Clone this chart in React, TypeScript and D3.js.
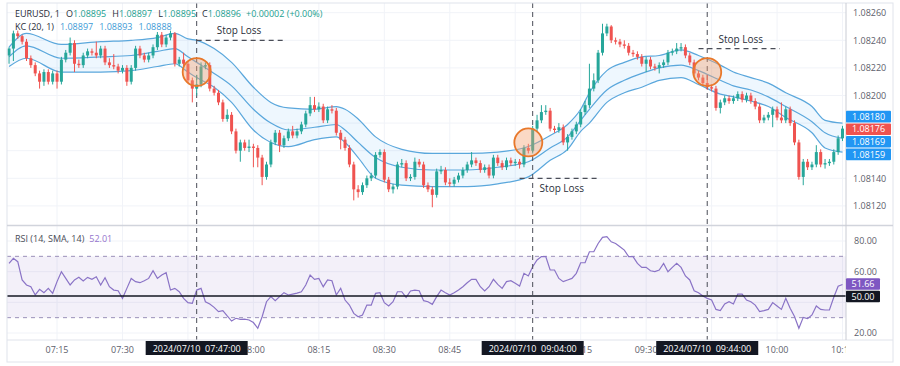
import React from "react";
import * as d3 from "d3";

// ---------- DATA ----------
const firstBarTime = "07:04";
const firstOpen = 1.08229;
const closes = [
  1.08234,1.08245,1.08243,1.08239,1.08227,1.08222,1.08216,1.08210,1.08217,1.08210,
  1.08216,1.08210,1.08226,1.08231,1.08238,1.08223,1.08222,1.08229,1.08232,1.08231,
  1.08229,1.08234,1.08224,1.08222,1.08221,1.08218,1.08220,1.08210,1.08220,1.08234,
  1.08229,1.08226,1.08229,1.08235,1.08244,1.08237,1.08242,1.08245,1.08223,1.08226,
  1.08223,1.08211,1.08205,1.08208,1.08221,1.08222,1.08205,1.08202,1.08195,1.08183,
  1.08186,1.08174,1.08160,1.08166,1.08162,1.08163,1.08162,1.08155,1.08141,1.08150,
  1.08166,1.08173,1.08164,1.08169,1.08174,1.08171,1.08174,1.08179,1.08187,1.08193,
  1.08190,1.08192,1.08182,1.08190,1.08189,1.08173,1.08168,1.08162,1.08150,1.08132,
  1.08130,1.08135,1.08140,1.08142,1.08157,1.08159,1.08139,1.08132,1.08134,1.08150,
  1.08151,1.08140,1.08141,1.08152,1.08150,1.08135,1.08132,1.08128,1.08145,1.08146,
  1.08137,1.08136,1.08139,1.08142,1.08146,1.08150,1.08153,1.08151,1.08146,1.08148,
  1.08142,1.08155,1.08151,1.08148,1.08153,1.08151,1.08152,1.08150,1.08162,1.08160,
  1.08176,1.08182,1.08188,1.08189,1.08176,1.08175,1.08177,1.08166,1.08170,1.08174,
  1.08179,1.08188,1.08193,1.08205,1.08211,1.08231,1.08245,1.08250,1.08240,1.08239,
  1.08237,1.08236,1.08231,1.08230,1.08228,1.08223,1.08226,1.08221,1.08220,1.08222,
  1.08224,1.08231,1.08232,1.08234,1.08235,1.08229,1.08224,1.08216,1.08213,1.08209,
  1.08206,1.08205,1.08191,1.08195,1.08198,1.08196,1.08198,1.08201,1.08197,1.08200,
  1.08196,1.08192,1.08182,1.08184,1.08186,1.08190,1.08184,1.08182,1.08190,1.08180,
  1.08166,1.08141,1.08152,1.08148,1.08150,1.08159,1.08150,1.08151,1.08152,1.08159,
  1.08169,1.08176,
];
const highs = [
  1.08235,1.08247,1.08247,1.08244,1.08241,1.08229,1.08224,1.08218,1.08219,1.08219,
  1.08218,1.08218,1.08228,1.08233,1.08242,1.08240,1.08226,1.08231,1.08234,1.08234,
  1.08239,1.08236,1.08236,1.08227,1.08230,1.08223,1.08222,1.08222,1.08222,1.08236,
  1.08236,1.08231,1.08231,1.08237,1.08246,1.08246,1.08244,1.08247,1.08246,1.08228,
  1.08231,1.08225,1.08213,1.08215,1.08224,1.08224,1.08224,1.08207,1.08204,1.08197,
  1.08190,1.08188,1.08176,1.08168,1.08168,1.08168,1.08165,1.08164,1.08157,1.08152,
  1.08168,1.08175,1.08175,1.08171,1.08176,1.08178,1.08176,1.08181,1.08189,1.08199,
  1.08199,1.08195,1.08194,1.08192,1.08193,1.08191,1.08175,1.08170,1.08164,1.08152,
  1.08135,1.08137,1.08142,1.08144,1.08159,1.08161,1.08161,1.08141,1.08136,1.08152,
  1.08154,1.08153,1.08143,1.08155,1.08154,1.08152,1.08137,1.08134,1.08147,1.08149,
  1.08148,1.08140,1.08141,1.08144,1.08148,1.08152,1.08159,1.08155,1.08153,1.08150,
  1.08150,1.08157,1.08157,1.08153,1.08155,1.08155,1.08154,1.08154,1.08164,1.08165,
  1.08178,1.08186,1.08193,1.08193,1.08191,1.08178,1.08180,1.08179,1.08172,1.08176,
  1.08181,1.08190,1.08196,1.08223,1.08216,1.08233,1.08252,1.08252,1.08251,1.08242,
  1.08241,1.08240,1.08238,1.08233,1.08232,1.08230,1.08228,1.08228,1.08223,1.08224,
  1.08226,1.08233,1.08234,1.08238,1.08238,1.08237,1.08231,1.08226,1.08218,1.08215,
  1.08215,1.08208,1.08207,1.08197,1.08200,1.08200,1.08200,1.08203,1.08203,1.08202,
  1.08202,1.08198,1.08194,1.08186,1.08188,1.08192,1.08192,1.08195,1.08192,1.08192,
  1.08182,1.08168,1.08154,1.08154,1.08152,1.08164,1.08161,1.08154,1.08154,1.08161,
  1.08171,1.08178,
];
const lows = [
  1.08223,1.08225,1.08241,1.08237,1.08225,1.08220,1.08214,1.08205,1.08207,1.08208,
  1.08208,1.08205,1.08208,1.08224,1.08229,1.08217,1.08220,1.08220,1.08227,1.08229,
  1.08227,1.08227,1.08222,1.08220,1.08219,1.08216,1.08216,1.08207,1.08208,1.08218,
  1.08227,1.08224,1.08224,1.08227,1.08233,1.08235,1.08235,1.08240,1.08221,1.08221,
  1.08221,1.08209,1.08195,1.08200,1.08206,1.08219,1.08203,1.08200,1.08193,1.08181,
  1.08181,1.08172,1.08158,1.08152,1.08160,1.08159,1.08148,1.08148,1.08135,1.08139,
  1.08148,1.08164,1.08159,1.08162,1.08167,1.08169,1.08169,1.08172,1.08177,1.08185,
  1.08188,1.08188,1.08180,1.08180,1.08187,1.08171,1.08161,1.08160,1.08148,1.08124,
  1.08126,1.08128,1.08133,1.08138,1.08140,1.08155,1.08137,1.08130,1.08129,1.08132,
  1.08148,1.08138,1.08138,1.08139,1.08148,1.08133,1.08130,1.08119,1.08126,1.08143,
  1.08135,1.08134,1.08134,1.08137,1.08140,1.08144,1.08148,1.08149,1.08144,1.08144,
  1.08140,1.08140,1.08149,1.08146,1.08146,1.08149,1.08149,1.08147,1.08148,1.08158,
  1.08158,1.08174,1.08180,1.08186,1.08174,1.08173,1.08173,1.08164,1.08160,1.08168,
  1.08172,1.08177,1.08186,1.08191,1.08203,1.08209,1.08229,1.08243,1.08238,1.08237,
  1.08235,1.08234,1.08229,1.08228,1.08226,1.08221,1.08217,1.08219,1.08218,1.08216,
  1.08220,1.08222,1.08229,1.08230,1.08232,1.08227,1.08222,1.08214,1.08211,1.08207,
  1.08204,1.08203,1.08189,1.08187,1.08193,1.08194,1.08194,1.08196,1.08195,1.08195,
  1.08194,1.08190,1.08180,1.08180,1.08182,1.08177,1.08182,1.08180,1.08180,1.08178,
  1.08164,1.08139,1.08135,1.08146,1.08146,1.08148,1.08148,1.08147,1.08149,1.08150,
  1.08157,1.08167,
];
const rsiValues = [
  65.4,68.7,66.5,54.6,51.3,50.2,44.8,48.5,46.3,49.1,
  45.9,53.5,60.0,55.6,51.3,54.6,56.3,53.9,56.3,55.0,
  56.7,51.3,56.1,50.2,48.0,47.6,42.6,49.1,55.6,53.5,
  52.8,54.1,55.6,60.6,55.6,57.8,59.3,48.0,49.1,46.9,
  42.6,39.8,39.3,48.0,49.1,40.4,38.9,36.7,33.9,34.6,
  31.1,27.8,29.6,28.9,29.1,28.5,26.8,23.1,30.6,40.4,
  43.7,41.1,43.7,46.3,44.8,45.4,46.0,46.9,51.3,57.8,
  55.0,55.6,50.2,54.6,54.1,44.8,49.1,41.5,38.2,32.8,
  30.6,31.7,38.2,38.2,45.9,46.3,39.8,37.6,40.4,46.9,
  46.9,43.2,47.4,48.0,47.6,41.1,40.4,38.7,43.7,48.0,
  46.3,44.8,46.3,48.0,50.2,52.8,55.0,55.0,50.2,47.4,
  50.2,55.0,51.7,49.1,53.5,54.1,52.4,50.6,58.9,57.2,
  63.2,67.6,69.8,69.8,61.1,61.1,55.6,53.5,54.6,55.6,
  58.9,65.8,65.8,73.0,73.0,78.4,82.4,82.8,79.5,78.4,
  76.3,74.1,69.8,69.8,65.4,62.8,62.8,60.6,60.0,61.1,
  65.4,60.0,62.8,65.4,62.8,57.2,54.6,47.6,46.3,44.1,
  42.6,41.5,35.4,34.6,38.9,40.4,38.9,45.4,45.4,41.5,
  40.4,38.2,33.9,34.6,35.4,39.8,37.6,35.4,42.6,36.1,
  30.7,23.1,30.2,29.4,31.8,37.6,35.4,35.0,35.0,43.3,
  50.5,51.66,
];
// Keltner channel samples (bar index -> band values)
const kcBars = [0,4,12,21,28,34,38,41,43,47,51,56,60,64,70,75,77,80,84,90,97,105,112,119,124,128,131,133,137,141,145,149,154,158,163,166,170,174,178,184,187,191];
const kcUpper = [1.08235,1.08245,1.08237,1.08239,1.08240,1.08242,1.08245,1.08241,1.08240,1.08234,1.08224,1.08206,1.08195,1.08191,1.08190,1.08192,1.08190,1.08183,1.08170,1.08161,1.08158,1.08158,1.08159,1.08163,1.08171,1.08179,1.08190,1.08202,1.08218,1.08224,1.08228,1.08229,1.08233,1.08229,1.08222,1.08217,1.08213,1.08209,1.08202,1.08192,1.08182,1.08180];
const kcMiddle = [1.08228,1.08236,1.08227,1.08228,1.08229,1.08232,1.08234,1.08228,1.08224,1.08216,1.08207,1.08190,1.08180,1.08175,1.08177,1.08179,1.08175,1.08166,1.08155,1.08148,1.08146,1.08146,1.08148,1.08152,1.08162,1.08170,1.08182,1.08190,1.08204,1.08211,1.08216,1.08220,1.08222,1.08218,1.08211,1.08207,1.08204,1.08199,1.08192,1.08181,1.08173,1.08169];
const kcLower = [1.08221,1.08227,1.08217,1.08217,1.08218,1.08221,1.08223,1.08217,1.08213,1.08206,1.08195,1.08175,1.08166,1.08163,1.08168,1.08170,1.08166,1.08155,1.08140,1.08135,1.08134,1.08134,1.08136,1.08141,1.08153,1.08161,1.08174,1.08180,1.08195,1.08202,1.08206,1.08211,1.08213,1.08208,1.08201,1.08199,1.08196,1.08192,1.08184,1.08173,1.08162,1.08159];

const priceTicks = [1.0826, 1.0824, 1.0822, 1.082, 1.0818, 1.0816, 1.0814, 1.0812];
const rsiTicks = [80, 60, 40, 20];
const rsiBandTop = 70;
const rsiBandBottom = 30;
const rsiRefLevel = 44.1;
const rsiRefLabel = "50.00";
const timeGrid = ["07:15","07:30","07:45","08:00","08:15","08:30","08:45","09:00","09:15","09:30","09:45","10:00","10:15"];
const timeLabels = ["07:15","07:30","08:00","08:15","08:30","08:45","09:15","09:30","10:00","10:15"];
const crosshairTimes = ["07:47","09:04","09:44"];
const crosshairLabels = ["2024/07/10  07:47:00","2024/07/10  09:04:00","2024/07/10  09:44:00"];
const stopLossFrom = ["07:47","09:01","09:42"];
const stopLossTo = ["08:07","09:19:30","10:00:40"];
const stopLossPrice = [1.0824, 1.0814, 1.08234];
const stopLossSide = ["above","below","above"];
const signalTimes = ["07:47","09:03","09:44"];
const signalPrices = [1.08217, 1.08166, 1.08217];
const legendSymbol = "EURUSD, 1";
const legendOHLC = [["O","1.08895"],["H","1.08897"],["L","1.08895"],["C","1.08896"]];
const legendChange = "+0.00002 (+0.00%)";
const kcTitle = "KC (20, 1)";
const kcLegendValues = ["1.08897","1.08893","1.08888"];
const rsiTitle = "RSI (14, SMA, 14)";
const rsiLegendValue = "52.01";

// ---------- HELPERS ----------
const at = (hm: string) => {
  const [h, m, s] = hm.split(":").map(Number);
  return new Date(2024, 6, 10, h, m, s || 0);
};

function dodge(ys: number[], gap: number): number[] {
  const idx = ys.map((_, i) => i).sort((a, b) => ys[a] - ys[b]);
  const groups = idx.map((i) => ({ members: [i], center: ys[i] }));
  let merged = true;
  while (merged) {
    merged = false;
    for (let k = 0; k < groups.length - 1; k++) {
      const a = groups[k], b = groups[k + 1];
      if (a.center + (a.members.length * gap) / 2 > b.center - (b.members.length * gap) / 2) {
        const members = a.members.concat(b.members);
        const center = d3.mean(members, (m) => ys[m]) as number;
        groups.splice(k, 2, { members, center });
        merged = true;
        break;
      }
    }
  }
  const out: number[] = new Array(ys.length);
  groups.forEach((g) =>
    g.members.forEach((m, j) => {
      out[m] = g.center - ((g.members.length - 1) * gap) / 2 + j * gap;
    })
  );
  return out;
}

const FONT = "'Open Sans', 'Noto Sans', sans-serif";
const UP = "#26a69a";
const DOWN = "#ef5350";
const KC = "#5aa7dc";
const RSI = "#8a73c6";
const AXIS_TEXT = "#5d606b";
const GRID = "#f1f3f8";
const BORDER = "#e0e3eb";
const BOX_H = 11.6;

export default function App() {
  const W = 900, H = 366;
  const PL = 7, PR = 846, TOP = 3, MAIN_B = 225, RSI_T = 226, RSI_B = 340, BOTTOM = 362, RIGHT = 893;

  const x = d3.scaleTime().domain([at("07:03:32"), at("10:15:48")]).range([PL, PR]);
  const y = d3.scaleLinear().domain([1.0812, 1.0826]).range([205.9, 12.7]);
  const yr = d3.scaleLinear().domain([20, 80]).range([333, 241]);
  const fmt = d3.format(".5f");

  const t0 = at(firstBarTime);
  const barTime = (i: number) => d3.timeMinute.offset(t0, i);
  const bars = closes.map((c, i) => ({
    t: barTime(i),
    o: i ? closes[i - 1] : firstOpen,
    c,
    h: highs[i],
    l: lows[i],
  }));

  const kcPts = kcBars.map((b, k) => ({ t: barTime(b), u: kcUpper[k], m: kcMiddle[k], l: kcLower[k] }));
  const curve = d3.curveMonotoneX;
  const kcArea = d3.area<any>().x((d) => x(d.t)).y0((d) => y(d.l)).y1((d) => y(d.u)).curve(curve)(kcPts) as string;
  const kcLine = (key: "u" | "m" | "l") =>
    d3.line<any>().x((d) => x(d.t)).y((d) => y(d[key])).curve(curve)(kcPts) as string;

  const rsiPath = d3.line<number>().x((_, i) => x(barTime(i))).y((v) => yr(v))(rsiValues) as string;

  const bodyW = 3;

  const last = closes.length - 1;
  const priceBoxes = [
    { v: kcUpper[kcUpper.length - 1], color: "#2196f3" },
    { v: closes[last], color: DOWN },
    { v: kcMiddle[kcMiddle.length - 1], color: "#2196f3" },
    { v: kcLower[kcLower.length - 1], color: "#2196f3" },
  ];
  const pbY = dodge(priceBoxes.map((b) => y(b.v)), 12.6);
  const rsiBoxes = [
    { v: rsiValues[rsiValues.length - 1], text: d3.format(".2f")(rsiValues[rsiValues.length - 1]), color: "#7e57c2" },
    { v: rsiRefLevel, text: rsiRefLabel, color: "#131722" },
  ];
  const rbY = dodge(rsiBoxes.map((b) => yr(b.v)), 12.6);

  // axis tick labels that sit under a value box are hidden (as the platform does)
  const covered = (ty: number, boxYs: number[]) => boxYs.some((by) => Math.abs(by - ty) < BOX_H - 1);
  const visiblePriceTicks = priceTicks.filter((p) => !covered(y(p), pbY));
  const visibleRsiTicks = rsiTicks.filter((v) => !covered(yr(v), rbY));

  return (
    <svg
      width={W}
      height={H}
      viewBox={`0 0 ${W} ${H}`}
      style={{ position: "absolute", left: 0, top: 0, background: "#fff", fontFamily: FONT }}
    >
      <defs>
        <clipPath id="mainClip">
          <rect x={PL} y={TOP} width={PR - PL} height={MAIN_B - TOP} />
        </clipPath>
        <clipPath id="rsiClip">
          <rect x={PL} y={RSI_T} width={PR - PL} height={RSI_B - RSI_T} />
        </clipPath>
        <clipPath id="timeClip">
          <rect x={PL} y={RSI_B} width={PR - PL} height={BOTTOM - RSI_B} />
        </clipPath>
      </defs>
      <rect x={0} y={0} width={W} height={H} fill="#fff" />

      {/* grid */}
      <g stroke={GRID} strokeWidth={1}>
        {priceTicks.map((p) => (
          <line key={"hp" + p} x1={PL} x2={PR} y1={y(p)} y2={y(p)} />
        ))}
        {rsiTicks.map((v) => (
          <line key={"hr" + v} x1={PL} x2={PR} y1={yr(v)} y2={yr(v)} />
        ))}
        {timeGrid.map((t) => (
          <line key={"v" + t} x1={x(at(t))} x2={x(at(t))} y1={TOP} y2={RSI_B} />
        ))}
      </g>

      {/* Keltner channel */}
      <g clipPath="url(#mainClip)">
        <path d={kcArea} fill="rgba(33,150,243,0.08)" />
        {(["u", "m", "l"] as const).map((k) => (
          <path key={k} d={kcLine(k)} fill="none" stroke={KC} strokeWidth={1.2} />
        ))}
      </g>

      {/* RSI pane */}
      <g clipPath="url(#rsiClip)">
        <rect x={PL} y={yr(rsiBandTop)} width={PR - PL} height={yr(rsiBandBottom) - yr(rsiBandTop)} fill="rgba(126,87,194,0.09)" />
        {[rsiBandTop, rsiBandBottom].map((v) => (
          <line key={v} x1={PL} x2={PR} y1={yr(v)} y2={yr(v)} stroke="#9a90b8" strokeDasharray="4 4" strokeWidth={1} />
        ))}
        <path d={rsiPath} fill="none" stroke={RSI} strokeWidth={1.2} />
        <line x1={PL} x2={PR} y1={yr(rsiRefLevel)} y2={yr(rsiRefLevel)} stroke="#131722" strokeWidth={1.4} />
      </g>

      {/* crosshair dashed verticals */}
      {crosshairTimes.map((t) => (
        <line key={"cx" + t} x1={x(at(t))} x2={x(at(t))} y1={TOP} y2={RSI_B} stroke="#4a4d57" strokeDasharray="5 4" strokeWidth={1} />
      ))}

      {/* candles */}
      <g clipPath="url(#mainClip)">
        {bars.map((b, i) => {
          const col = b.c >= b.o ? UP : DOWN;
          const cx = x(b.t);
          const top = y(Math.max(b.o, b.c));
          const bot = y(Math.min(b.o, b.c));
          return (
            <g key={i}>
              <line x1={cx} x2={cx} y1={y(b.h)} y2={y(b.l)} stroke={col} strokeWidth={1} />
              <rect x={cx - bodyW / 2} y={top} width={bodyW} height={Math.max(1, bot - top)} fill={col} />
            </g>
          );
        })}
      </g>

      {/* signal circles */}
      {signalTimes.map((t, i) => (
        <circle key={"sc" + i} cx={x(at(t))} cy={y(signalPrices[i])} r={14} fill="rgba(245,160,110,0.4)" stroke="#e8782a" strokeWidth={1.8} />
      ))}

      {/* stop loss annotations */}
      {stopLossFrom.map((f, i) => {
        const x1 = x(at(f));
        const x2 = x(at(stopLossTo[i]));
        const yy = y(stopLossPrice[i]);
        return (
          <g key={"sl" + i}>
            <line x1={x1} x2={x2} y1={yy} y2={yy} stroke="#4a4d57" strokeDasharray="5 4" strokeWidth={1.2} />
            <text x={x1 + 20} y={stopLossSide[i] === "above" ? yy - 6 : yy + 14} fontSize={10} fill="#2a2e39">
              Stop Loss
            </text>
          </g>
        );
      })}

      {/* frame */}
      <rect x={PL} y={TOP} width={RIGHT - PL} height={BOTTOM - TOP} fill="none" stroke={BORDER} strokeWidth={1} />
      <line x1={PL} x2={RIGHT} y1={MAIN_B + 0.5} y2={MAIN_B + 0.5} stroke="#d1d4dc" strokeWidth={1.5} />
      <line x1={PL} x2={RIGHT} y1={RSI_B} y2={RSI_B} stroke={BORDER} strokeWidth={1} />
      <line x1={PR} x2={PR} y1={TOP} y2={RSI_B} stroke="#c9ccd4" strokeWidth={1} />

      {/* price axis labels */}
      {visiblePriceTicks.map((p) => (
        <text key={"pl" + p} x={853} y={y(p) + 3.2} fontSize={9} fill={AXIS_TEXT}>
          {fmt(p)}
        </text>
      ))}
      {priceBoxes.map((b, i) => (
        <g key={"pb" + i}>
          <rect x={PR} y={pbY[i] - BOX_H / 2} width={45} height={BOX_H} fill={b.color} rx={1} />
          <text x={PR + 22.5} y={pbY[i] + 3.2} fontSize={9} fill="#fff" textAnchor="middle">
            {fmt(b.v)}
          </text>
        </g>
      ))}

      {/* RSI axis labels */}
      {visibleRsiTicks.map((v) => (
        <text key={"rl" + v} x={854} y={yr(v) + 3.2} fontSize={9} fill={AXIS_TEXT}>
          {d3.format(".2f")(v)}
        </text>
      ))}
      {rsiBoxes.map((b, i) => (
        <g key={"rb" + i}>
          <rect x={PR} y={rbY[i] - BOX_H / 2} width={34} height={BOX_H} fill={b.color} rx={1} />
          <text x={PR + 17} y={rbY[i] + 3.2} fontSize={9} fill="#fff" textAnchor="middle">
            {b.text}
          </text>
        </g>
      ))}

      {/* time axis */}
      <g clipPath="url(#timeClip)">
        {timeLabels.map((t) => (
          <text key={"tl" + t} x={x(at(t))} y={353} fontSize={9} fill={AXIS_TEXT} textAnchor="middle">
            {t}
          </text>
        ))}
      </g>
      {crosshairTimes.map((t, i) => (
        <g key={"tb" + t}>
          <rect x={x(at(t)) - 51} y={341} width={102} height={14} fill="#131722" />
          <text x={x(at(t))} y={351.5} fontSize={9} fill="#fff" textAnchor="middle" style={{ whiteSpace: "pre" }}>
            {crosshairLabels[i]}
          </text>
        </g>
      ))}

      {/* legends */}
      <text x={15} y={17} fontSize={9} fill="#2a2e39" style={{ whiteSpace: "pre" }}>
        <tspan>{legendSymbol}</tspan>
        {legendOHLC.map(([k, v]) => (
          <React.Fragment key={k}>
            <tspan dx={6}>{k}</tspan>
            <tspan fill="#22a08f">{v}</tspan>
          </React.Fragment>
        ))}
        <tspan dx={5} fill="#22a08f">{legendChange}</tspan>
      </text>
      <text x={15} y={30} fontSize={9} fill="#2a2e39">
        <tspan>{kcTitle}</tspan>
        {kcLegendValues.map((v, i) => (
          <tspan key={i} dx={6} fill="#3d9ad6">{v}</tspan>
        ))}
      </text>
      <text x={15} y={241.5} fontSize={9} fill="#4a4d57">
        <tspan>{rsiTitle}</tspan>
        <tspan dx={5} fill="#9575cd">{rsiLegendValue}</tspan>
      </text>
    </svg>
  );
}
